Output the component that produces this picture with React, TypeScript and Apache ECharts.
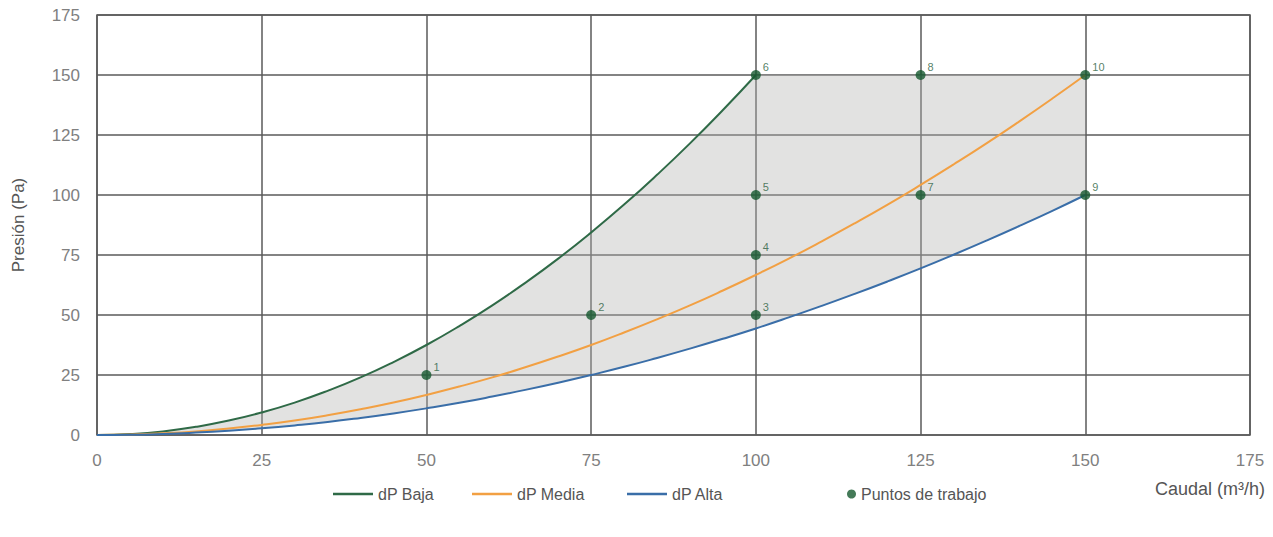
import React, { useEffect, useRef } from "react";
import * as echarts from "echarts";

// dP Baja curve (x = caudal, y = presión)
const bajaX = [0, 5, 10, 15, 20, 25, 30, 35, 40, 45, 50, 55, 60, 65, 70, 75, 80, 85, 90, 95, 100];
const bajaY = [0, 0.4, 1.5, 3.4, 6, 9.4, 13.5, 18.4, 24, 30.4, 37.5, 45.4, 54, 63.4, 73.5, 84.4, 96, 108.4, 121.5, 135.4, 150];
// dP Media curve
const mediaX = [0, 5, 10, 15, 20, 25, 30, 35, 40, 45, 50, 55, 60, 65, 70, 75, 80, 85, 90, 95, 100, 105, 110, 115, 120, 125, 130, 135, 140, 145, 150];
const mediaY = [0, 0.2, 0.7, 1.5, 2.7, 4.2, 6, 8.2, 10.7, 13.5, 16.7, 20.2, 24, 28.2, 32.7, 37.5, 42.7, 48.2, 54, 60.2, 66.7, 73.5, 80.7, 88.2, 96, 104.2, 112.7, 121.5, 130.7, 140.2, 150];
// dP Alta curve
const altaX = [0, 5, 10, 15, 20, 25, 30, 35, 40, 45, 50, 55, 60, 65, 70, 75, 80, 85, 90, 95, 100, 105, 110, 115, 120, 125, 130, 135, 140, 145, 150];
const altaY = [0, 0.1, 0.4, 1, 1.8, 2.8, 4, 5.4, 7.1, 9, 11.1, 13.4, 16, 18.8, 21.8, 25, 28.4, 32.1, 36, 40.1, 44.4, 49, 53.8, 58.8, 64, 69.4, 75.1, 81, 87.1, 93.4, 100];
// Puntos de trabajo
const puntoLabels = ["1", "2", "3", "4", "5", "6", "7", "8", "9", "10"];
const puntoX = [50, 75, 100, 100, 100, 100, 125, 125, 150, 150];
const puntoY = [25, 50, 50, 75, 100, 150, 100, 150, 100, 150];
// working-zone top edge (horizontal from Baja end to x=150)
const zoneTopX = [100, 150];
const zoneTopY = [150, 150];

const axisTicks = [0, 25, 50, 75, 100, 125, 150, 175];

const FONT = "Liberation Sans, Arial, Helvetica, sans-serif";

export default function App() {
  const ref = useRef<HTMLDivElement>(null);
  useEffect(() => {
    if (!ref.current) return;
    const chart = echarts.init(ref.current, null, { renderer: "svg" });

    const pair = (xs: number[], ys: number[]) => xs.map((x, i) => [x, ys[i]]);
    const bajaData = pair(bajaX, bajaY);
    const mediaData = pair(mediaX, mediaY);
    const altaData = pair(altaX, altaY);
    const zonePoly = [
      ...bajaData,
      ...pair(zoneTopX, zoneTopY).slice(1),
      ...altaData.slice().reverse(),
    ];

    const gridLine = { show: true, lineStyle: { color: "#5a5a5a", width: 1.5 } };
    const legendText = { color: "#555", fontSize: 16, fontFamily: FONT };
    const lineLegend = (name: string, left: number) => ({
      data: [name],
      left,
      top: 481,
      icon: "rect",
      itemWidth: 40,
      itemHeight: 2.5,
      itemGap: 6,
      textStyle: legendText,
    });

    chart.setOption({
      animation: false,
      backgroundColor: "#ffffff",
      textStyle: { fontFamily: FONT },
      grid: { left: 97, right: 23, top: 15, bottom: 102, show: true, borderColor: "#5a5a5a", borderWidth: 1.5 },
      xAxis: {
        type: "value",
        min: axisTicks[0],
        max: axisTicks[axisTicks.length - 1],
        interval: 25,
        axisLine: { show: false },
        axisTick: { show: false },
        splitLine: gridLine,
        axisLabel: { color: "#808080", fontSize: 17, margin: 17, fontFamily: FONT },
      },
      yAxis: {
        type: "value",
        min: axisTicks[0],
        max: axisTicks[axisTicks.length - 1],
        interval: 25,
        name: "Presión (Pa)",
        nameLocation: "middle",
        nameGap: 70,
        nameTextStyle: { color: "#555", fontSize: 17, fontFamily: FONT },
        axisLine: { show: false },
        axisTick: { show: false },
        splitLine: gridLine,
        axisLabel: { color: "#808080", fontSize: 17, margin: 17, fontFamily: FONT },
      },
      legend: [
        lineLegend("dP Baja", 328),
        lineLegend("dP Media", 467),
        lineLegend("dP Alta", 622),
        {
          data: ["Puntos de trabajo"],
          left: 842,
          top: 481,
          icon: "circle",
          itemWidth: 9,
          itemHeight: 9,
          itemGap: 6,
          textStyle: legendText,
        },
      ],
      graphic: [
        {
          type: "text",
          right: 8,
          top: 480,
          style: { text: "Caudal (m³/h)", fill: "#555", fontSize: 18, fontFamily: FONT },
        },
      ],
      series: [
        {
          type: "custom",
          name: "zona",
          silent: true,
          z: 1,
          data: [0],
          renderItem: (_params: any, api: any) => ({
            type: "polygon",
            shape: { points: zonePoly.map((p) => api.coord(p)), smooth: 0 },
            style: { fill: "rgba(178,178,175,0.38)", stroke: "none" },
          }),
        },
        {
          type: "line",
          name: "dP Baja",
          data: bajaData,
          smooth: true,
          symbol: "none",
          z: 3,
          lineStyle: { color: "#2f6a47", width: 2 },
          itemStyle: { color: "#2f6a47" },
        },
        {
          type: "line",
          name: "dP Media",
          data: mediaData,
          smooth: true,
          symbol: "none",
          z: 3,
          lineStyle: { color: "#f2a043", width: 2 },
          itemStyle: { color: "#f2a043" },
        },
        {
          type: "line",
          name: "dP Alta",
          data: altaData,
          smooth: true,
          symbol: "none",
          z: 3,
          lineStyle: { color: "#3a6ea8", width: 2 },
          itemStyle: { color: "#3a6ea8" },
        },
        {
          type: "scatter",
          name: "Puntos de trabajo",
          z: 5,
          symbolSize: 10,
          itemStyle: { color: "#15592e" },
          data: puntoX.map((x, i) => ({ value: [x, puntoY[i]], name: puntoLabels[i] })),
          label: {
            show: true,
            formatter: (p: any) => p.name,
            position: "right",
            offset: [-3, -8],
            color: "#2a6040",
            fontSize: 11,
            fontFamily: FONT,
          },
        },
      ],
    });
    return () => chart.dispose();
  }, []);
  return <div ref={ref} style={{ width: 1273, height: 537, margin: -8 }} />;
}
